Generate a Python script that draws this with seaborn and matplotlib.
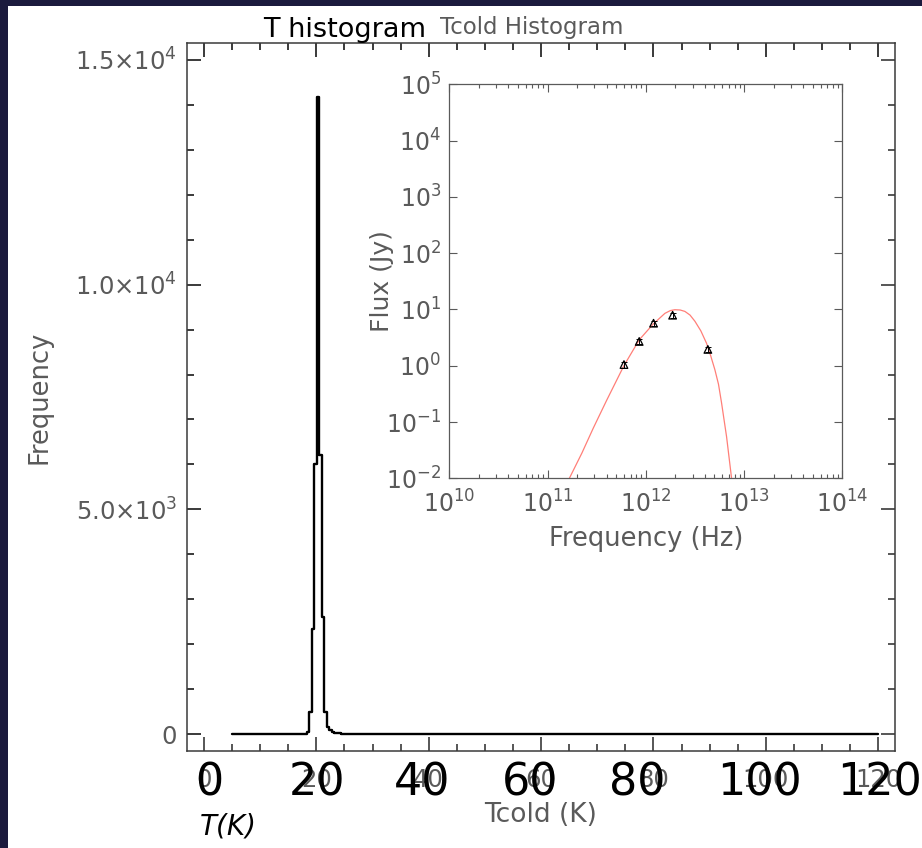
import matplotlib
matplotlib.use("Agg")
import matplotlib.pyplot as plt
import matplotlib.transforms as mtransforms
import numpy as np
import pandas as pd
import seaborn as sns
from matplotlib.patches import Rectangle
from matplotlib.ticker import FixedLocator, FixedFormatter, NullLocator, LogLocator, NullFormatter

# ---------------- data ----------------
# Tcold histogram (bin edges in K, counts per bin)
bin_edges = [5.0, 18.25, 18.7, 19.15, 19.6, 20.05, 20.5, 20.95, 21.4, 21.85,
             22.3, 22.75, 23.2, 23.7, 24.3, 25.0, 26.0, 28.0, 31.0, 120.0]
bin_counts = [0, 40, 480, 2330, 6000, 14180, 6200, 2600, 480, 150,
              80, 45, 25, 15, 8, 4, 2, 1, 0]

main_xticks = [0, 20, 40, 60, 80, 100, 120]
main_xticklabels = ["0", "20", "40", "60", "80", "100", "120"]
main_yticks = [0, 5000, 10000, 15000]
main_yticklabels = ["0", r"$5.0{\times}10^{3}$", r"$1.0{\times}10^{4}$", r"$1.5{\times}10^{4}$"]
big_labels = ["0", "20", "40", "60", "80", "100", "120"]

# SED inset
sed_freq = [5.996e11, 8.565e11, 1.199e12, 1.874e12, 4.283e12]
sed_flux = [1.05, 2.7, 5.7, 7.9, 1.95]
sed_err = [0.12, 0.3, 0.65, 0.9, 0.22]

fit_logfreq = [11.222, 11.35, 11.465, 11.6, 11.777, 11.933, 12.075, 12.194, 12.25,
               12.296, 12.35, 12.398, 12.45, 12.5, 12.56, 12.618, 12.66, 12.703,
               12.74, 12.771, 12.822, 12.873]
fit_logflux = [-2.0, -1.55, -1.11, -0.62, 0.0, 0.46, 0.74, 0.93, 0.98,
               0.995, 0.99, 0.965, 0.90, 0.79, 0.62, 0.40, 0.18, -0.07,
               -0.33, -0.66, -1.26, -2.0]

inset_xticks = [1e10, 1e11, 1e12, 1e13, 1e14]
inset_xticklabels = [r"$10^{10}$", r"$10^{11}$", r"$10^{12}$", r"$10^{13}$", r"$10^{14}$"]
inset_yticks = [1e-2, 1e-1, 1e0, 1e1, 1e2, 1e3, 1e4, 1e5]
inset_yticklabels = [r"$10^{-2}$", r"$10^{-1}$", r"$10^{0}$", r"$10^{1}$",
                     r"$10^{2}$", r"$10^{3}$", r"$10^{4}$", r"$10^{5}$"]

# ---------------- style ----------------
sns.set_theme(style="white")
plt.rcParams["font.family"] = ["DejaVu Sans"]
plt.rcParams["mathtext.default"] = "regular"

W, H = 922, 848
fig = plt.figure(figsize=(W / 100, H / 100), dpi=100)
fig.patch.set_facecolor("#1b1a3d")
fig.add_artist(Rectangle((8 / W, 0), 1 - 8 / W, 1 - 6 / H, transform=fig.transFigure,
                         facecolor="white", edgecolor="none", zorder=-5))

gray = "#5a5a5a"
spine_c = "#3a3a3a"
minor_x = np.arange(0, 121, 5)
minor_y = np.arange(0, 15001, 1000)

# ---------------- main histogram ----------------
ax = fig.add_axes([187 / W, 1 - 751 / H, 708 / W, 708 / H])
ax.set_facecolor("white")
edges = np.array(bin_edges)
centers = (edges[:-1] + edges[1:]) / 2
hist_df = pd.DataFrame({"T": centers, "n": bin_counts})
sns.histplot(data=hist_df, x="T", weights="n", bins=bin_edges, element="step",
             fill=False, color="black", linewidth=1.7, ax=ax)
ax.set_xlim(-3.03, 123.0)
ax.set_ylim(-378, 15378)
ax.xaxis.set_major_locator(FixedLocator(main_xticks))
ax.yaxis.set_major_locator(FixedLocator(main_yticks))
ax.xaxis.set_minor_locator(FixedLocator(minor_x))
ax.yaxis.set_minor_locator(FixedLocator(minor_y))
for s in ax.spines.values():
    s.set_visible(True)
    s.set_color(spine_c)
    s.set_linewidth(1.1)
ax.xaxis.set_major_formatter(FixedFormatter(main_xticklabels))
ax.yaxis.set_major_formatter(FixedFormatter(main_yticklabels))
ax.tick_params(which="both", direction="in", top=True, right=True, bottom=True, left=True,
               labeltop=False, labelright=False,
               color=spine_c, labelcolor=gray, labelsize=17.5, width=1.2)
ax.tick_params(which="major", length=10)
ax.tick_params(which="minor", length=5)
ax.tick_params(axis="x", pad=12)
ax.tick_params(axis="y", pad=7)

# explicit top / left tick rows at the axis tick positions
tr_top = mtransforms.blended_transform_factory(ax.transData, ax.transAxes)
tr_left = mtransforms.blended_transform_factory(ax.transAxes, ax.transData)
maj_len_x, min_len_x = 14 / 708, 7 / 708
for xv in minor_x:
    L = maj_len_x if xv in main_xticks else min_len_x
    ax.vlines(xv, 1 - L, 1, transform=tr_top, colors=spine_c, linewidth=1.2,
              clip_on=False, zorder=20)
for yv in minor_y:
    L = maj_len_x if yv in main_yticks else min_len_x
    ax.hlines(yv, 0, L, transform=tr_left, colors=spine_c, linewidth=1.2,
              clip_on=False, zorder=20)

ax.set_xlabel("Tcold (K)", fontsize=19, color=gray)
ax.xaxis.set_label_coords(0.5, -0.072)
ax.set_ylabel("Frequency", fontsize=18.5, color=gray)
ax.yaxis.set_label_coords(-0.19, 0.5)

# large overlaid axis numbers
big_x = [0.9, 20.2, 38.9, 58.0, 77.1, 98.9, 120.2]
for xv, lab in zip(big_x, big_labels):
    ax.text(xv, (751 - 795) / 708, lab, transform=tr_top, ha="center", va="baseline",
            fontsize=32, color="black", clip_on=False, zorder=10)

fig.text(200 / W, 1 - 834 / H, "T(K)", fontsize=20, style="italic",
         color="black", ha="left", va="baseline")
fig.text(345 / W, 1 - 37 / H, "T histogram", fontsize=19.5, color="black",
         ha="center", va="baseline")
fig.text(440 / W, 1 - 34 / H, "Tcold Histogram", fontsize=16.5, color=gray,
         ha="left", va="baseline")

# ---------------- inset SED ----------------
ax2 = fig.add_axes([449.3 / W, 1 - 478.3 / H, 393 / W, 394 / H])
ax2.set_facecolor("white")
ax2.set_xscale("log")
ax2.set_yscale("log")
fit_df = pd.DataFrame({"f": np.power(10.0, fit_logfreq), "S": np.power(10.0, fit_logflux)})
sns.lineplot(data=fit_df, x="f", y="S", color="#ff7f78", linewidth=0.9,
             estimator=None, sort=False, ax=ax2)
ax2.errorbar(sed_freq, sed_flux, yerr=sed_err, fmt="none", ecolor="black",
             elinewidth=0.7, capsize=2.5, capthick=0.7, zorder=3)
sns.scatterplot(x=sed_freq, y=sed_flux, marker="^", s=30, color="none",
                edgecolor="black", linewidth=0.9, ax=ax2, zorder=4)
ax2.set_xlim(1e10, 1e14)
ax2.set_ylim(1e-2, 1e5)

ax2.xaxis.set_major_locator(FixedLocator(inset_xticks))
ax2.xaxis.set_major_formatter(FixedFormatter(inset_xticklabels))
ax2.xaxis.set_minor_locator(LogLocator(base=10, subs=np.arange(2, 10), numticks=20))
ax2.xaxis.set_minor_formatter(NullFormatter())
ax2.yaxis.set_major_locator(FixedLocator(inset_yticks))
ax2.yaxis.set_major_formatter(FixedFormatter(inset_yticklabels))
ax2.yaxis.set_minor_locator(NullLocator())

for s in ax2.spines.values():
    s.set_visible(True)
    s.set_color(gray)
    s.set_linewidth(0.9)
ax2.tick_params(which="both", direction="in", top=True, right=True, bottom=True, left=True,
                labeltop=False, labelright=False,
                color=gray, labelcolor=gray, labelsize=17, width=0.8)
ax2.tick_params(which="major", length=6)
ax2.tick_params(which="minor", length=3)
ax2.tick_params(axis="x", pad=9)
ax2.tick_params(axis="y", pad=6)
ax2.set_xlabel("Frequency (Hz)", fontsize=18.5, color=gray)
ax2.xaxis.set_label_coords(0.5, -0.122)
ax2.set_ylabel("Flux (Jy)", fontsize=18, color=gray)
ax2.yaxis.set_label_coords(-0.14, 0.5)

fig.savefig("out.png", dpi=100, facecolor=fig.get_facecolor())
